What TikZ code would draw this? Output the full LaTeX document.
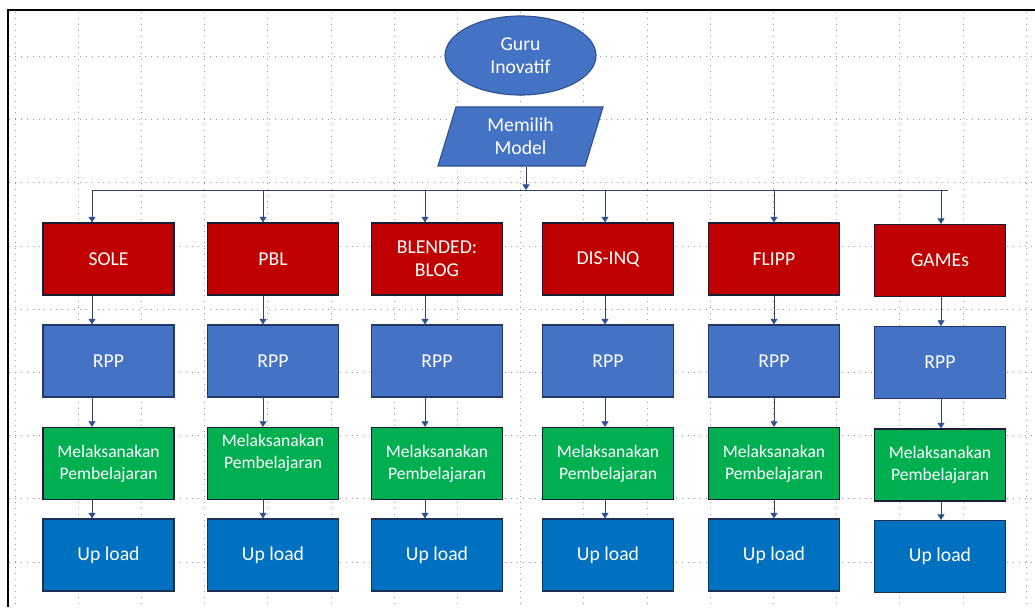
\documentclass[tikz,border=0pt]{standalone}
\usepackage{fontspec}
\setmainfont{Carlito}
\usetikzlibrary{shapes.geometric,arrows.meta}

\definecolor{merah}{RGB}{192,0,0}
\definecolor{biru}{RGB}{68,114,196}
\definecolor{hijau}{RGB}{0,176,80}
\definecolor{birutua}{RGB}{0,112,192}
\definecolor{tepibiru}{RGB}{47,82,143}
\definecolor{tepi}{RGB}{25,30,55}
\definecolor{panah}{RGB}{55,65,100}

\tikzset{
	kotak/.style={rectangle, draw=tepi, line width=0.8pt, minimum width=3.275cm, minimum height=1.8cm, inner sep=2pt, text=white, align=center, font=\fontsize{14}{16.5}\selectfont},
	modelbox/.style={kotak, fill=merah},
	rppbox/.style={kotak, fill=biru, draw=tepibiru!70!black},
	laksbox/.style={kotak, fill=hijau, font=\fontsize{12.5}{15.6}\selectfont},
	upbox/.style={kotak, fill=birutua, draw=tepibiru!60!black},
	laksatas/.style={text depth=17pt},
	laksbiasa/.style={},
	hubung/.style={draw=panah, line width=0.6pt, -{Triangle[width=5pt,length=4pt,color=tepibiru]}},
	kisi/.style={draw=gray!80, line width=0.6pt, dash pattern=on 0.6pt off 3.6pt}
}

\begin{document}
\begin{tikzpicture}[x=0.025cm, y=-0.025cm]
\useasboundingbox (0,0) rectangle (1035,607);

% grid of the page
\foreach \gx in {0,...,16}
	\draw[kisi] ({15+63.2*\gx},12) -- ({15+63.2*\gx},607);
\foreach \gy in {0,...,8}
	\draw[kisi] (9,{56.5+63.2*\gy}) -- (1035,{56.5+63.2*\gy});

\draw[line width=1.1pt] (8,607) -- (8,10) -- (1035,10);

% top
\node[ellipse, fill=biru, draw=tepibiru, line width=0.8pt, minimum width=3.775cm, minimum height=1.975cm, inner sep=0pt, text=white, align=center, font=\fontsize{14}{16.5}\selectfont] (guru) at (520.5,55.5) {Guru\\Inovatif};
\node[trapezium, trapezium left angle=76, trapezium right angle=104, trapezium stretches=true, fill=biru, draw=tepibiru, line width=0.8pt, minimum width=4.125cm, minimum height=1.475cm, inner sep=0pt, text=white, align=center, font=\fontsize{14}{16.5}\selectfont] (pilih) at (520.5,136.5) {Memilih\\Model};

\coordinate (hub) at (526,190);
\coordinate (busL) at (92,190);
\coordinate (busR) at (948,190);
\draw[draw=panah, line width=0.6pt] (busL) -- (busR);
\draw[hubung] (hub |- pilih.south) -- (hub);

% columns
\foreach \i/\cx/\ax/\dy/\nama/\lk in {1/108.5/92/0/SOLE/laksbiasa, 2/273/263/0/PBL/laksatas, 3/437/425/0/{BLENDED:\\BLOG}/laksbiasa, 4/608/605/0/DIS-INQ/laksbiasa, 5/774/774/0/FLIPP/laksbiasa, 6/940/941/1.5/GAMEs/laksbiasa} {
	\node[modelbox] (mod\i) at (\cx,259+\dy) {\nama};
	\node[rppbox] (rpp\i) at (\cx,361+\dy) {RPP};
	\node[laksbox, \lk] (laks\i) at (\cx,463.5+\dy) {Melaksanakan\\Pembelajaran};
	\node[upbox] (upl\i) at (\cx,555+\dy) {Up load};

	\coordinate (jalur\i) at (\ax,190);
	\draw[hubung] (jalur\i) -- (jalur\i |- mod\i.north);
	\draw[hubung] (jalur\i |- mod\i.south) -- (jalur\i |- rpp\i.north);
	\draw[hubung] (jalur\i |- rpp\i.south) -- (jalur\i |- laks\i.north);
	\draw[hubung] (jalur\i |- laks\i.south) -- (jalur\i |- upl\i.north);
}
\end{tikzpicture}
\end{document}
